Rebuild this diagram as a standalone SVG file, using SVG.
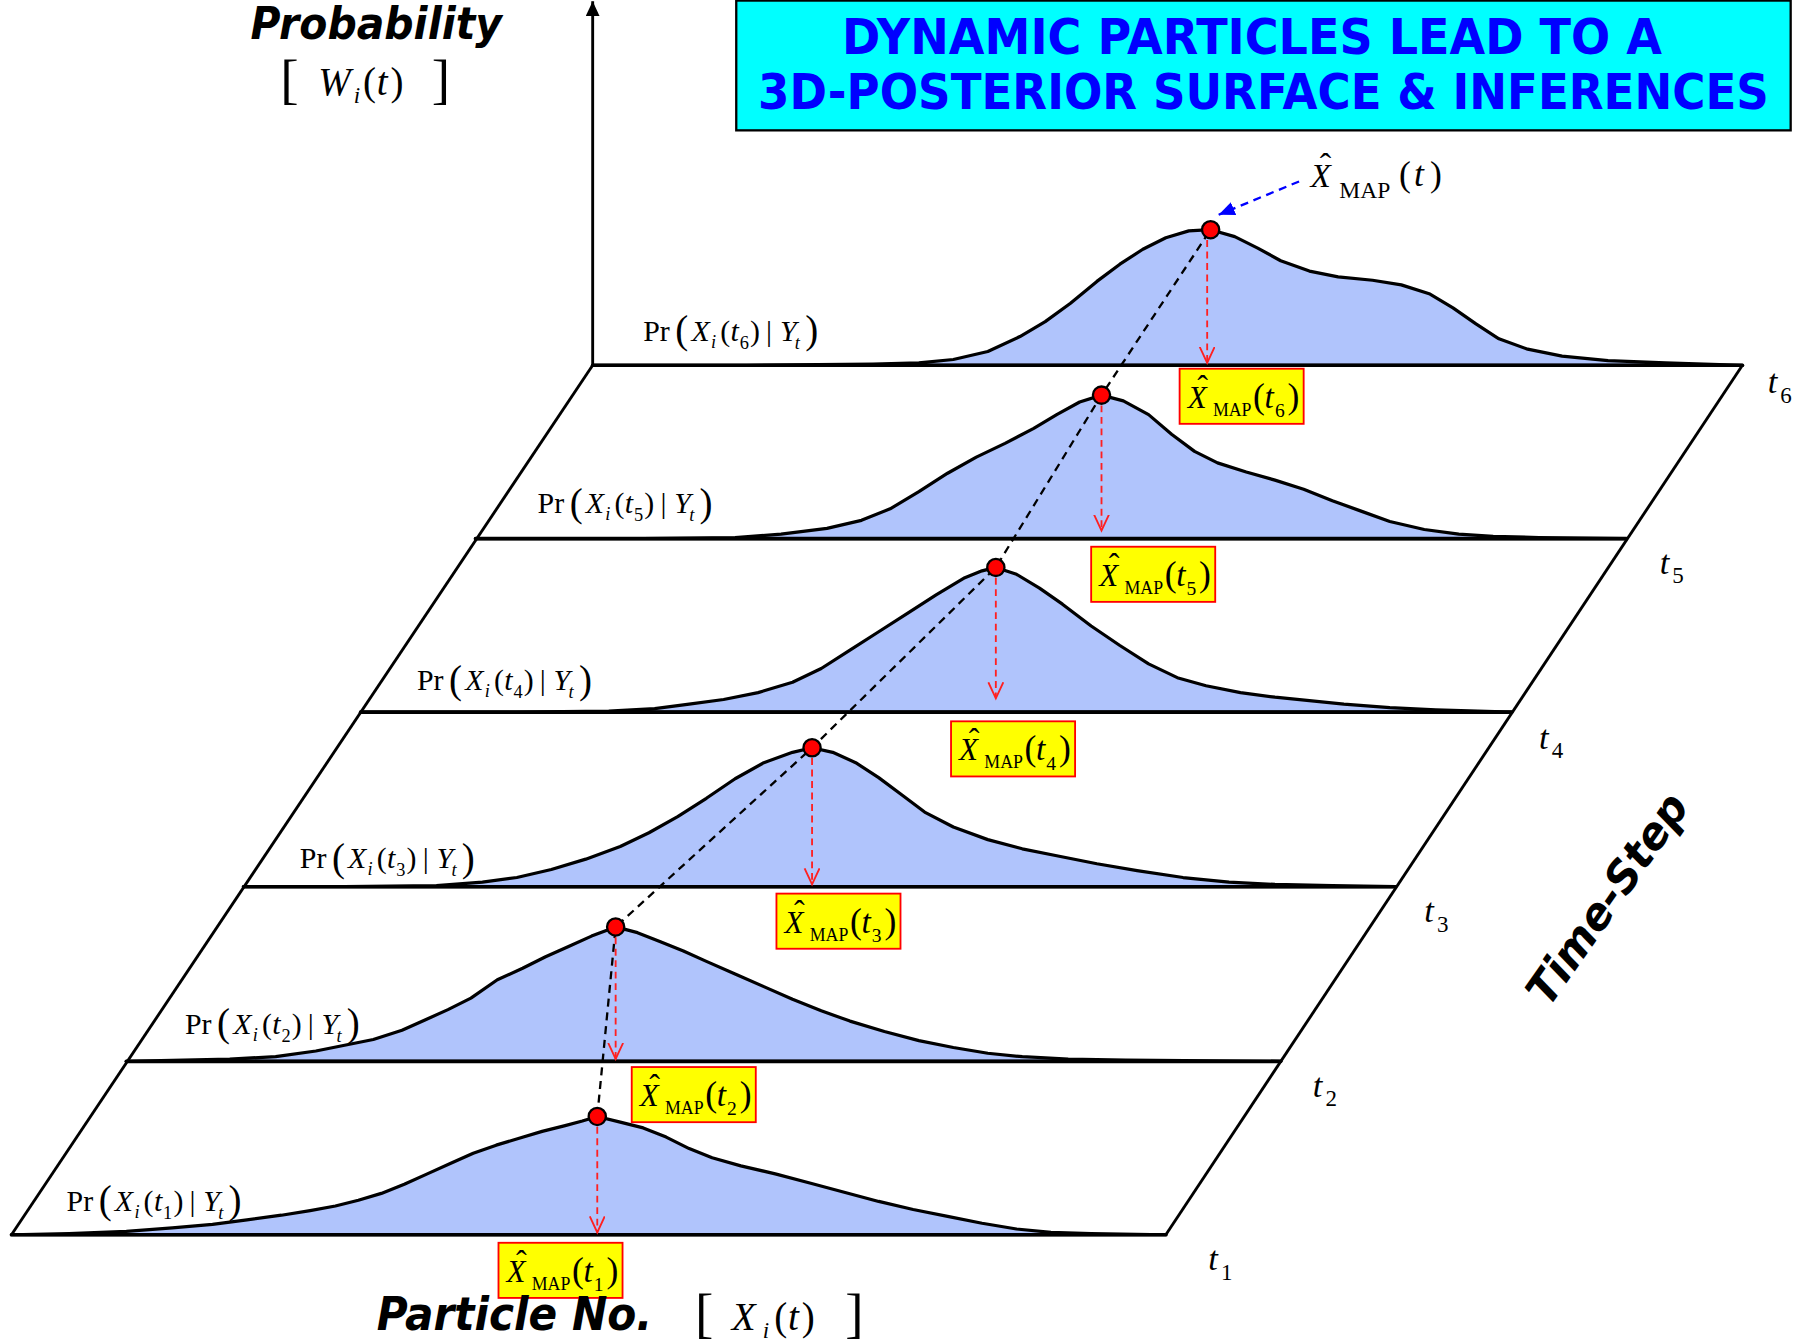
<svg xmlns="http://www.w3.org/2000/svg" width="1801" height="1342" viewBox="0 0 1801 1342">
<style>
.curve{fill:#B0C4FC;stroke:#000;stroke-width:2.8;stroke-linejoin:round}
.base{stroke:#000;stroke-width:3.2;fill:none;stroke-linecap:round}
.edge{stroke:#000;stroke-width:2.5;fill:none}
.peak{fill:#FF0000;stroke:#000;stroke-width:2}
.trail{stroke:#000;stroke-width:2;stroke-dasharray:7 5;fill:none}
.drop{stroke:#FF2020;stroke-width:1.6;stroke-dasharray:6 4;fill:none;marker-end:url(#vhead)}
.box{fill:#FFFF00;stroke:#FF0000;stroke-width:1.6}
.m{font-family:"Liberation Serif","Times New Roman",serif;fill:#000}
.it{font-style:italic}
.cm{font-family:"DejaVu Sans",sans-serif;font-weight:bold;font-style:italic;fill:#000}
</style>
<defs>
<marker id="vhead" markerUnits="userSpaceOnUse" markerWidth="16" markerHeight="16" refX="14" refY="7" orient="auto">
<path d="M0,0.5 L14,7 L0,13.5" fill="none" stroke="#FF2020" stroke-width="1.6" stroke-dasharray="none"/>
</marker>
<marker id="bhead" markerUnits="userSpaceOnUse" markerWidth="16" markerHeight="14" refX="14" refY="6" orient="auto">
<path d="M0,0 L14,6 L0,12 Z" fill="#0000FF" stroke="none"/>
</marker>
<marker id="khead" markerUnits="userSpaceOnUse" markerWidth="14" markerHeight="14" refX="13" refY="6" orient="auto">
<path d="M0,0 L13,6 L0,12 Z" fill="#000"/>
</marker>
</defs>
<rect width="1801" height="1342" fill="#fff"/>
<g transform="scale(1.1486)">

<g id="slice-t6">
<path class="curve" d="M516,318 L650,318 760,317 800,316 830,313 860,306 888,293 910,280 932,264 955,245 975,230 995,217 1015,207 1035,201 1054,200 1075,206 1095,216 1115,227 1140,236 1165,241 1195,244 1220,248 1245,256 1265,268 1285,282 1305,295 1330,304 1360,310 1400,314 1450,316 1517,318 Z"/>
<line class="base" x1="516" y1="318" x2="1517" y2="318"/>
</g>
<g id="slice-t5">
<path class="curve" d="M414,469 L560,469 640,468 680,465 720,460 750,453 775,443 800,428 825,412 850,398 875,386 900,373 920,361 940,350 959,344 978,349 1000,361 1020,378 1040,393 1060,403 1085,411 1110,418 1135,426 1160,436 1185,445 1210,454 1240,461 1270,465 1300,467 1340,468 1416,469 Z"/>
<line class="base" x1="414" y1="469" x2="1416" y2="469"/>
</g>
<g id="slice-t4">
<path class="curve" d="M314,620 L450,620 530,619 570,617 600,613 630,609 660,603 690,594 715,582 740,566 765,550 790,534 815,518 840,503 855,497 867,494 885,500 905,512 925,526 950,545 975,562 1000,578 1025,590 1050,597 1080,603 1110,607 1140,610 1170,613 1210,616 1250,618 1316,620 Z"/>
<line class="base" x1="314" y1="620" x2="1316" y2="620"/>
</g>
<g id="slice-t3">
<path class="curve" d="M212,772 L300,772 380,771 420,768 450,764 480,757 510,748 540,737 565,725 590,711 615,695 640,678 665,664 690,655 707,651 725,655 745,664 765,677 785,692 805,707 830,720 860,731 890,739 920,745 955,752 990,758 1030,764 1070,768 1110,770 1160,771 1215,772 Z"/>
<line class="base" x1="212" y1="772" x2="1215" y2="772"/>
</g>
<g id="slice-t2">
<path class="curve" d="M110,924 L160,923 200,922 240,920 275,915 300,910 325,905 350,897 370,888 390,879 410,869 433,853 455,843 475,833 495,824 515,815 536,807 555,812 575,820 595,828 615,837 640,848 665,859 690,870 715,880 740,889 770,898 800,906 830,912 860,917 890,920 930,922 980,923 1115,924 Z"/>
<line class="base" x1="110" y1="924" x2="1115" y2="924"/>
</g>
<g id="slice-t1">
<path class="curve" d="M10,1075 L60,1074 110,1072 150,1069 185,1066 215,1062 245,1058 270,1054 292,1050 312,1045 332,1039 352,1031 372,1022 392,1013 412,1004 432,997 452,991 472,985 492,980 507,976 520,972 540,977 560,982 580,990 600,1000 620,1008 645,1015 675,1022 705,1030 735,1038 765,1046 795,1053 825,1059 855,1065 885,1070 915,1073 950,1074 1015,1075 Z"/>
<line class="base" x1="10" y1="1075" x2="1015" y2="1075"/>
</g>

<g id="connectors">
<line class="edge" x1="10" y1="1075" x2="516" y2="318"/>
<line class="edge" x1="1015" y1="1075" x2="1517" y2="318"/>
<line class="edge" x1="516" y1="318" x2="516" y2="1" marker-end="url(#khead)"/>
<path class="trail" d="M520,972 L536,807 L707,651 L867,494 L959,344 L1054,200"/>
<line class="drop" x1="520" y1="981" x2="520" y2="1073"/>
<line class="drop" x1="536" y1="816" x2="536" y2="922"/>
<line class="drop" x1="707" y1="660" x2="707" y2="770"/>
<line class="drop" x1="867" y1="503" x2="867" y2="608"/>
<line class="drop" x1="959" y1="353" x2="959" y2="462"/>
<line class="drop" x1="1051" y1="209" x2="1051" y2="316"/>
<line x1="1131" y1="158" x2="1061" y2="187" stroke="#0000FF" stroke-width="2" stroke-dasharray="7 5" marker-end="url(#bhead)"/>
</g>

<g id="peaks">
<circle class="peak" cx="520" cy="972" r="7.5"/>
<circle class="peak" cx="536" cy="807" r="7.5"/>
<circle class="peak" cx="707" cy="651" r="7.5"/>
<circle class="peak" cx="867" cy="494" r="7.5"/>
<circle class="peak" cx="959" cy="344" r="7.5"/>
<circle class="peak" cx="1054" cy="200" r="7.5"/>
</g>

<g id="map-t6" transform="translate(1027,321)">
<rect class="box" width="108" height="48"/>
<text class="m it" x="7" y="34" font-size="27">X</text>
<text class="m" x="20" y="25" font-size="28" text-anchor="middle">ˆ</text>
<text class="m" x="29" y="41" font-size="15.5">MAP</text>
<text class="m" font-size="31"><tspan x="64" y="34">(</tspan><tspan class="it" x="74" y="34" font-size="29">t</tspan><tspan x="83" y="42" font-size="17">6</tspan><tspan x="94" y="34">)</tspan></text>
</g>
<g id="map-t5" transform="translate(950,476)">
<rect class="box" width="108" height="48"/>
<text class="m it" x="7" y="34" font-size="27">X</text>
<text class="m" x="20" y="25" font-size="28" text-anchor="middle">ˆ</text>
<text class="m" x="29" y="41" font-size="15.5">MAP</text>
<text class="m" font-size="31"><tspan x="64" y="34">(</tspan><tspan class="it" x="74" y="34" font-size="29">t</tspan><tspan x="83" y="42" font-size="17">5</tspan><tspan x="94" y="34">)</tspan></text>
</g>
<g id="map-t4" transform="translate(828,628)">
<rect class="box" width="108" height="48"/>
<text class="m it" x="7" y="34" font-size="27">X</text>
<text class="m" x="20" y="25" font-size="28" text-anchor="middle">ˆ</text>
<text class="m" x="29" y="41" font-size="15.5">MAP</text>
<text class="m" font-size="31"><tspan x="64" y="34">(</tspan><tspan class="it" x="74" y="34" font-size="29">t</tspan><tspan x="83" y="42" font-size="17">4</tspan><tspan x="94" y="34">)</tspan></text>
</g>
<g id="map-t3" transform="translate(676,778)">
<rect class="box" width="108" height="48"/>
<text class="m it" x="7" y="34" font-size="27">X</text>
<text class="m" x="20" y="25" font-size="28" text-anchor="middle">ˆ</text>
<text class="m" x="29" y="41" font-size="15.5">MAP</text>
<text class="m" font-size="31"><tspan x="64" y="34">(</tspan><tspan class="it" x="74" y="34" font-size="29">t</tspan><tspan x="83" y="42" font-size="17">3</tspan><tspan x="94" y="34">)</tspan></text>
</g>
<g id="map-t2" transform="translate(550,929)">
<rect class="box" width="108" height="48"/>
<text class="m it" x="7" y="34" font-size="27">X</text>
<text class="m" x="20" y="25" font-size="28" text-anchor="middle">ˆ</text>
<text class="m" x="29" y="41" font-size="15.5">MAP</text>
<text class="m" font-size="31"><tspan x="64" y="34">(</tspan><tspan class="it" x="74" y="34" font-size="29">t</tspan><tspan x="83" y="42" font-size="17">2</tspan><tspan x="94" y="34">)</tspan></text>
</g>
<g id="map-t1" transform="translate(434,1082)">
<rect class="box" width="108" height="48"/>
<text class="m it" x="7" y="34" font-size="27">X</text>
<text class="m" x="20" y="25" font-size="28" text-anchor="middle">ˆ</text>
<text class="m" x="29" y="41" font-size="15.5">MAP</text>
<text class="m" font-size="31"><tspan x="64" y="34">(</tspan><tspan class="it" x="74" y="34" font-size="29">t</tspan><tspan x="83" y="42" font-size="17">1</tspan><tspan x="94" y="34">)</tspan></text>
</g>

<g id="pr-t6" transform="translate(560,297)">
<text class="m" font-size="26"><tspan x="0" y="0">Pr</tspan><tspan x="28" y="2" font-size="34">(</tspan><tspan class="it" x="42" y="0">X</tspan><tspan class="it" x="59" y="6" font-size="16">i</tspan><tspan x="67" y="0">(</tspan><tspan class="it" x="76" y="0">t</tspan><tspan x="84" y="7" font-size="16">6</tspan><tspan x="93" y="0">)</tspan><tspan x="107" y="0">|</tspan><tspan class="it" x="119" y="0">Y</tspan><tspan class="it" x="132" y="7" font-size="16">t</tspan><tspan x="141" y="2" font-size="34">)</tspan></text>
</g>
<g id="pr-t5" transform="translate(468,447)">
<text class="m" font-size="26"><tspan x="0" y="0">Pr</tspan><tspan x="28" y="2" font-size="34">(</tspan><tspan class="it" x="42" y="0">X</tspan><tspan class="it" x="59" y="6" font-size="16">i</tspan><tspan x="67" y="0">(</tspan><tspan class="it" x="76" y="0">t</tspan><tspan x="84" y="7" font-size="16">5</tspan><tspan x="93" y="0">)</tspan><tspan x="107" y="0">|</tspan><tspan class="it" x="119" y="0">Y</tspan><tspan class="it" x="132" y="7" font-size="16">t</tspan><tspan x="141" y="2" font-size="34">)</tspan></text>
</g>
<g id="pr-t4" transform="translate(363,601)">
<text class="m" font-size="26"><tspan x="0" y="0">Pr</tspan><tspan x="28" y="2" font-size="34">(</tspan><tspan class="it" x="42" y="0">X</tspan><tspan class="it" x="59" y="6" font-size="16">i</tspan><tspan x="67" y="0">(</tspan><tspan class="it" x="76" y="0">t</tspan><tspan x="84" y="7" font-size="16">4</tspan><tspan x="93" y="0">)</tspan><tspan x="107" y="0">|</tspan><tspan class="it" x="119" y="0">Y</tspan><tspan class="it" x="132" y="7" font-size="16">t</tspan><tspan x="141" y="2" font-size="34">)</tspan></text>
</g>
<g id="pr-t3" transform="translate(261,756)">
<text class="m" font-size="26"><tspan x="0" y="0">Pr</tspan><tspan x="28" y="2" font-size="34">(</tspan><tspan class="it" x="42" y="0">X</tspan><tspan class="it" x="59" y="6" font-size="16">i</tspan><tspan x="67" y="0">(</tspan><tspan class="it" x="76" y="0">t</tspan><tspan x="84" y="7" font-size="16">3</tspan><tspan x="93" y="0">)</tspan><tspan x="107" y="0">|</tspan><tspan class="it" x="119" y="0">Y</tspan><tspan class="it" x="132" y="7" font-size="16">t</tspan><tspan x="141" y="2" font-size="34">)</tspan></text>
</g>
<g id="pr-t2" transform="translate(161,900)">
<text class="m" font-size="26"><tspan x="0" y="0">Pr</tspan><tspan x="28" y="2" font-size="34">(</tspan><tspan class="it" x="42" y="0">X</tspan><tspan class="it" x="59" y="6" font-size="16">i</tspan><tspan x="67" y="0">(</tspan><tspan class="it" x="76" y="0">t</tspan><tspan x="84" y="7" font-size="16">2</tspan><tspan x="93" y="0">)</tspan><tspan x="107" y="0">|</tspan><tspan class="it" x="119" y="0">Y</tspan><tspan class="it" x="132" y="7" font-size="16">t</tspan><tspan x="141" y="2" font-size="34">)</tspan></text>
</g>
<g id="pr-t1" transform="translate(58,1054)">
<text class="m" font-size="26"><tspan x="0" y="0">Pr</tspan><tspan x="28" y="2" font-size="34">(</tspan><tspan class="it" x="42" y="0">X</tspan><tspan class="it" x="59" y="6" font-size="16">i</tspan><tspan x="67" y="0">(</tspan><tspan class="it" x="76" y="0">t</tspan><tspan x="84" y="7" font-size="16">1</tspan><tspan x="93" y="0">)</tspan><tspan x="107" y="0">|</tspan><tspan class="it" x="119" y="0">Y</tspan><tspan class="it" x="132" y="7" font-size="16">t</tspan><tspan x="141" y="2" font-size="34">)</tspan></text>
</g>

<g id="time-labels">
<text class="m" font-size="30"><tspan class="it" x="1539" y="342">t</tspan><tspan x="1550" y="351" font-size="20">6</tspan></text>
<text class="m" font-size="30"><tspan class="it" x="1445" y="500">t</tspan><tspan x="1456" y="508" font-size="20">5</tspan></text>
<text class="m" font-size="30"><tspan class="it" x="1340" y="652">t</tspan><tspan x="1351" y="660" font-size="20">4</tspan></text>
<text class="m" font-size="30"><tspan class="it" x="1240" y="803">t</tspan><tspan x="1251" y="811" font-size="20">3</tspan></text>
<text class="m" font-size="30"><tspan class="it" x="1143" y="955">t</tspan><tspan x="1154" y="963" font-size="20">2</tspan></text>
<text class="m" font-size="30"><tspan class="it" x="1052" y="1106">t</tspan><tspan x="1063" y="1114" font-size="20">1</tspan></text>
</g>

<g id="map-label">
<text class="m it" x="1141" y="162.5" font-size="29">X</text>
<text class="m" x="1154" y="154" font-size="30" text-anchor="middle">ˆ</text>
<text class="m" x="1166" y="172" font-size="20.5">MAP</text>
<text class="m" font-size="31"><tspan x="1218" y="162">(</tspan><tspan class="it" x="1231" y="162">t</tspan><tspan x="1245" y="162">)</tspan></text>
</g>

<g id="title">
<rect x="641" y="0.5" width="918" height="113" fill="#00FFFF" stroke="#000" stroke-width="2"/>
<text x="1090" y="47" font-family="'DejaVu Sans',sans-serif" font-weight="bold" font-size="43" fill="#0000FF" text-anchor="middle" textLength="714" lengthAdjust="spacingAndGlyphs">DYNAMIC PARTICLES LEAD TO A</text>
<text x="1100" y="95" font-family="'DejaVu Sans',sans-serif" font-weight="bold" font-size="43" fill="#0000FF" text-anchor="middle" textLength="880" lengthAdjust="spacingAndGlyphs">3D-POSTERIOR SURFACE &amp; INFERENCES</text>
</g>

<g id="y-axis-label">
<text class="cm" x="218" y="34" font-size="38" textLength="219" lengthAdjust="spacingAndGlyphs">Probability</text>
<text class="m" font-size="48"><tspan x="244" y="85">[</tspan><tspan x="376" y="85">]</tspan></text>
<text class="m" font-size="34"><tspan class="it" x="277" y="83">W</tspan><tspan class="it" x="308" y="90" font-size="20">i</tspan><tspan x="316" y="83">(</tspan><tspan class="it" x="328" y="83">t</tspan><tspan x="340" y="83">)</tspan></text>
</g>

<g id="x-axis-label">
<text class="cm" x="328" y="1158" font-size="40" textLength="240" lengthAdjust="spacingAndGlyphs">Particle No.</text>
<text class="m" font-size="48"><tspan x="605" y="1160">[</tspan><tspan x="736" y="1160">]</tspan></text>
<text class="m" font-size="34"><tspan class="it" x="637" y="1158">X</tspan><tspan class="it" x="664" y="1165" font-size="20">i</tspan><tspan x="674" y="1158">(</tspan><tspan class="it" x="686" y="1158">t</tspan><tspan x="698" y="1158">)</tspan></text>
</g>

<g id="time-step-label">
<text class="cm" x="0" y="0" font-size="38" text-anchor="middle" textLength="215" lengthAdjust="spacingAndGlyphs" transform="translate(1410,790) rotate(-55)">Time-Step</text>
</g>
</g>
</svg>
